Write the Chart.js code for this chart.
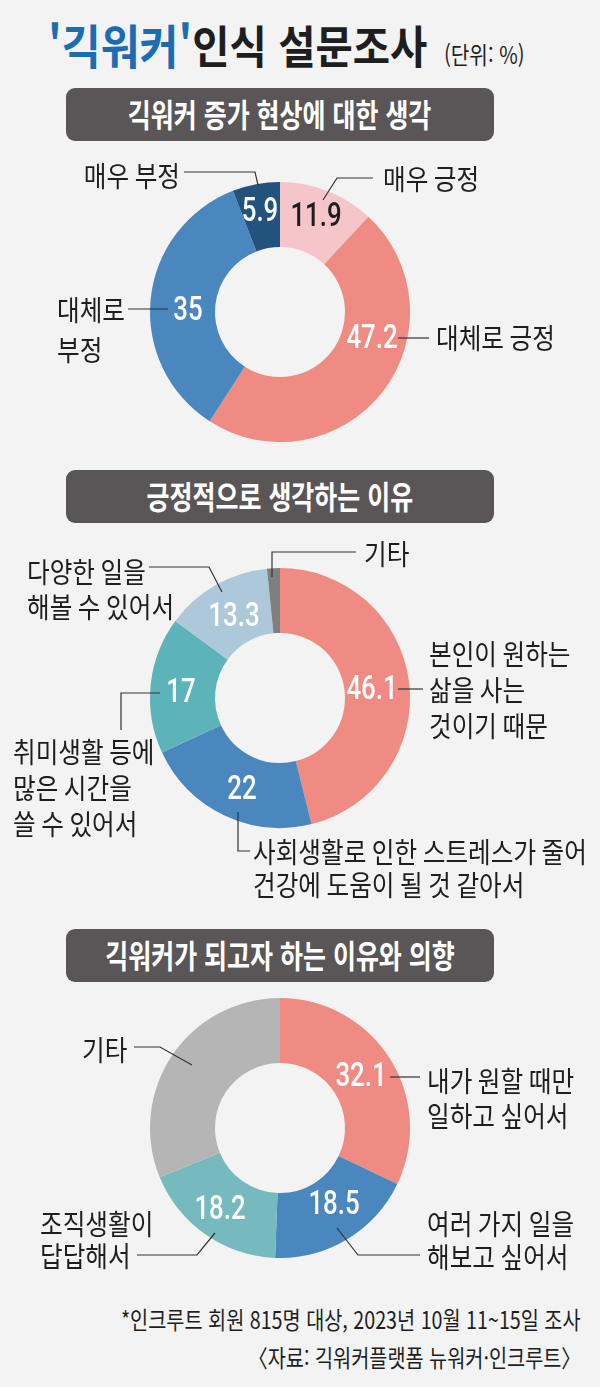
<!DOCTYPE html>
<html lang="ko">
<head>
<meta charset="utf-8">
<script src="https://cdn.jsdelivr.net/npm/chart.js@4.4.1/dist/chart.umd.min.js"></script>
<style>
  body { margin: 0; background: #f3f3f3; }
  #page { position: relative; width: 600px; height: 1387px; background: #f3f3f3; overflow: hidden;
          font-family: "Noto Sans CJK KR", sans-serif; color: #1e1e1e; }
  #title { position: absolute; left: 48px; top: 20px; font-weight: 700; white-space: nowrap; line-height: 1;
           transform: scaleX(0.9); transform-origin: left top; font-size: 45px; }
  #title .blue { color: #1b6cb3; font-size: 47px; }
  #unit { position: absolute; left: 444px; top: 42px; font-size: 24px; line-height: 1; white-space: nowrap;
          transform: scaleX(0.84); transform-origin: left top; }
  .head { position: absolute; left: 66px; width: 428px; height: 53px; border-radius: 9px; background: #5a5657;
          color: #fff; display: flex; justify-content: center; line-height: 51px; font-weight: 700;
          font-size: 32px; white-space: nowrap; }
  .head span { display: block; flex-shrink: 0; transform: scaleX(0.78); }
  canvas { position: absolute; left: 0; }
  .foot { position: absolute; right: 19px; font-size: 24px; line-height: 1; white-space: nowrap;
          transform: scaleX(0.82); transform-origin: right top; }
</style>
</head>
<body>
<div id="page">
  <div id="title"><span class="blue">'긱워커'</span>인식 설문조사</div>
  <div id="unit">(단위: %)</div>

  <div class="head" style="top:88px"><span>긱워커 증가 현상에 대한 생각</span></div>
  <canvas id="c1" width="600" height="320" style="top:150px"></canvas>

  <div class="head" style="top:470px"><span>긍정적으로 생각하는 이유</span></div>
  <canvas id="c2" width="600" height="380" style="top:528px"></canvas>

  <div class="head" style="top:929px"><span>긱워커가 되고자 하는 이유와 의향</span></div>
  <canvas id="c3" width="600" height="300" style="top:990px"></canvas>

  <div class="foot" style="top:1307px">*인크루트 회원 815명 대상, 2023년 10월 11~15일 조사</div>
  <div class="foot" style="top:1345px">〈자료: 긱워커플랫폼 뉴워커·인크루트〉</div>
</div>

<script>
// 긱워커 증가 현상에 대한 생각
const viewLabels = ["매우 긍정", "대체로 긍정", "대체로\n부정", "매우 부정"];
const viewValues = [11.9, 47.2, 35, 5.9];
const viewColors = ["#f6c5ca", "#ef8b82", "#4b87bf", "#24527e"];

// 긍정적으로 생각하는 이유
const reasonLabels = [
  "본인이 원하는\n삶을 사는\n것이기 때문",
  "사회생활로 인한 스트레스가 줄어\n건강에 도움이 될 것 같아서",
  "취미생활 등에\n많은 시간을\n쓸 수 있어서",
  "다양한 일을\n해볼 수 있어서",
  "기타"
];
const reasonValues = [46.1, 22, 17, 13.3, 1.6];
const reasonColors = ["#ef8b82", "#4b87bf", "#5db3ba", "#adc8d8", "#7f7f7f"];

// 긱워커가 되고자 하는 이유와 의향
const intentLabels = ["내가 원할 때만\n일하고 싶어서", "여러 가지 일을\n해보고 싶어서", "조직생활이\n답답해서", "기타"];
const intentValues = [32.1, 18.5, 18.2, 31.2];
const intentColors = ["#ef8b82", "#4b87bf", "#76bac0", "#b5b5b5"];

// draw condensed text (the original uses a narrow gothic face)
function drawText(ctx, text, x, y, font, color, align, sx) {
  ctx.save();
  ctx.font = font;
  ctx.fillStyle = color;
  ctx.textBaseline = "middle";
  ctx.textAlign = "left";
  const w = ctx.measureText(text).width * sx;
  const left = align === "center" ? x - w / 2 : align === "right" ? x - w : x;
  ctx.translate(left, y);
  ctx.scale(sx, 1);
  ctx.fillText(text, 0, 0);
  ctx.restore();
}

const sliceLabels = {
  id: "sliceLabels",
  afterDatasetsDraw(chart, args, opts) {
    const ctx = chart.ctx;
    const meta = chart.getDatasetMeta(0);
    const cx = meta.data[0].x, cy = meta.data[0].y;
    const values = chart.data.datasets[0].data;
    const labels = chart.data.labels;

    // numbers inside the ring
    values.forEach((v, i) => {
      const p = opts.valuePos[i];
      if (!p) return;
      drawText(ctx, String(v), cx + p[0], cy + p[1], "500 34px Roboto", opts.valueColors[i] || "#fff", "center", 0.76);
    });

    // category names with leader lines
    ctx.save();
    ctx.strokeStyle = "#333";
    ctx.lineWidth = 1.2;
    opts.outer.forEach((o, i) => {
      ctx.beginPath();
      o.path.forEach((pt, k) => {
        if (k === 0) ctx.moveTo(cx + pt[0], cy + pt[1]);
        else ctx.lineTo(cx + pt[0], cy + pt[1]);
      });
      ctx.stroke();
      labels[i].split("\n").forEach((line, k) => {
        drawText(ctx, line, cx + o.x, cy + o.y + k * (o.lh || 0), "400 28px 'Noto Sans CJK KR'", "#1e1e1e", o.align || "left", 0.88);
      });
    });
    ctx.restore();
  }
};

function makeDonut(id, labels, values, colors, pad, labelOpts) {
  return new Chart(document.getElementById(id), {
    type: "doughnut",
    data: {
      labels: labels,
      datasets: [{ data: values, backgroundColor: colors, borderWidth: 0, hoverOffset: 0 }]
    },
    options: {
      responsive: false,
      animation: false,
      events: [],
      rotation: 0,
      cutout: "50%",
      layout: { padding: pad },
      plugins: {
        legend: { display: false },
        tooltip: { enabled: false },
        sliceLabels: labelOpts
      }
    },
    plugins: [sliceLabels]
  });
}

makeDonut("c1", viewLabels, viewValues, viewColors,
  { left: 150, right: 190, top: 32, bottom: 28 },
  {
    valuePos: [[36, -95], [92, 27], [-92, -1], [-20, -100]],
    valueColors: ["#1e1e1e"],
    outer: [
      { x: 103, y: -133, path: [[93, -134], [57, -134], [43, -112]] },
      { x: 156, y: 26, path: [[118, 26], [149, 26]] },
      { x: -223, y: -2, lh: 40, path: [[-152, -3], [-112, -3]] },
      { x: -100, y: -136, align: "right", path: [[-96, -140], [-25, -140], [-22, -127]] }
    ]
  });

makeDonut("c2", reasonLabels, reasonValues, reasonColors,
  { left: 150, right: 190, top: 40, bottom: 80 },
  {
    valuePos: [[92, -8], [-38, 92], [-99, -5], [-46, -81], null],
    valueColors: [],
    outer: [
      { x: 149, y: -44, lh: 36, path: [[118, -9], [143, -9]] },
      { x: -27, y: 154, lh: 33, path: [[-42, 114], [-42, 153], [-30, 153]] },
      { x: -267, y: 54, lh: 36, path: [[-159, 32], [-159, -5], [-120, -5]] },
      { x: -253, y: -126, lh: 35, path: [[-131, -131], [-71, -131], [-58, -106]] },
      { x: 84, y: -144, path: [[76, -146], [-8, -146], [-8, -121]] }
    ]
  });

makeDonut("c3", intentLabels, intentValues, intentColors,
  { left: 150, right: 190, top: 8, bottom: 32 },
  {
    valuePos: [[81, -51], [54, 77], [-60, 82], null],
    valueColors: [],
    outer: [
      { x: 147, y: -47, lh: 35, path: [[110, -51], [140, -51]] },
      { x: 147, y: 96, lh: 33, path: [[57, 100], [78, 127], [140, 127]] },
      { x: -240, y: 96, lh: 32, path: [[-143, 127], [-83, 127], [-65, 105]] },
      { x: -198, y: -78, path: [[-146, -81], [-120, -81], [-88, -63]] }
    ]
  });
</script>
</body>
</html>
